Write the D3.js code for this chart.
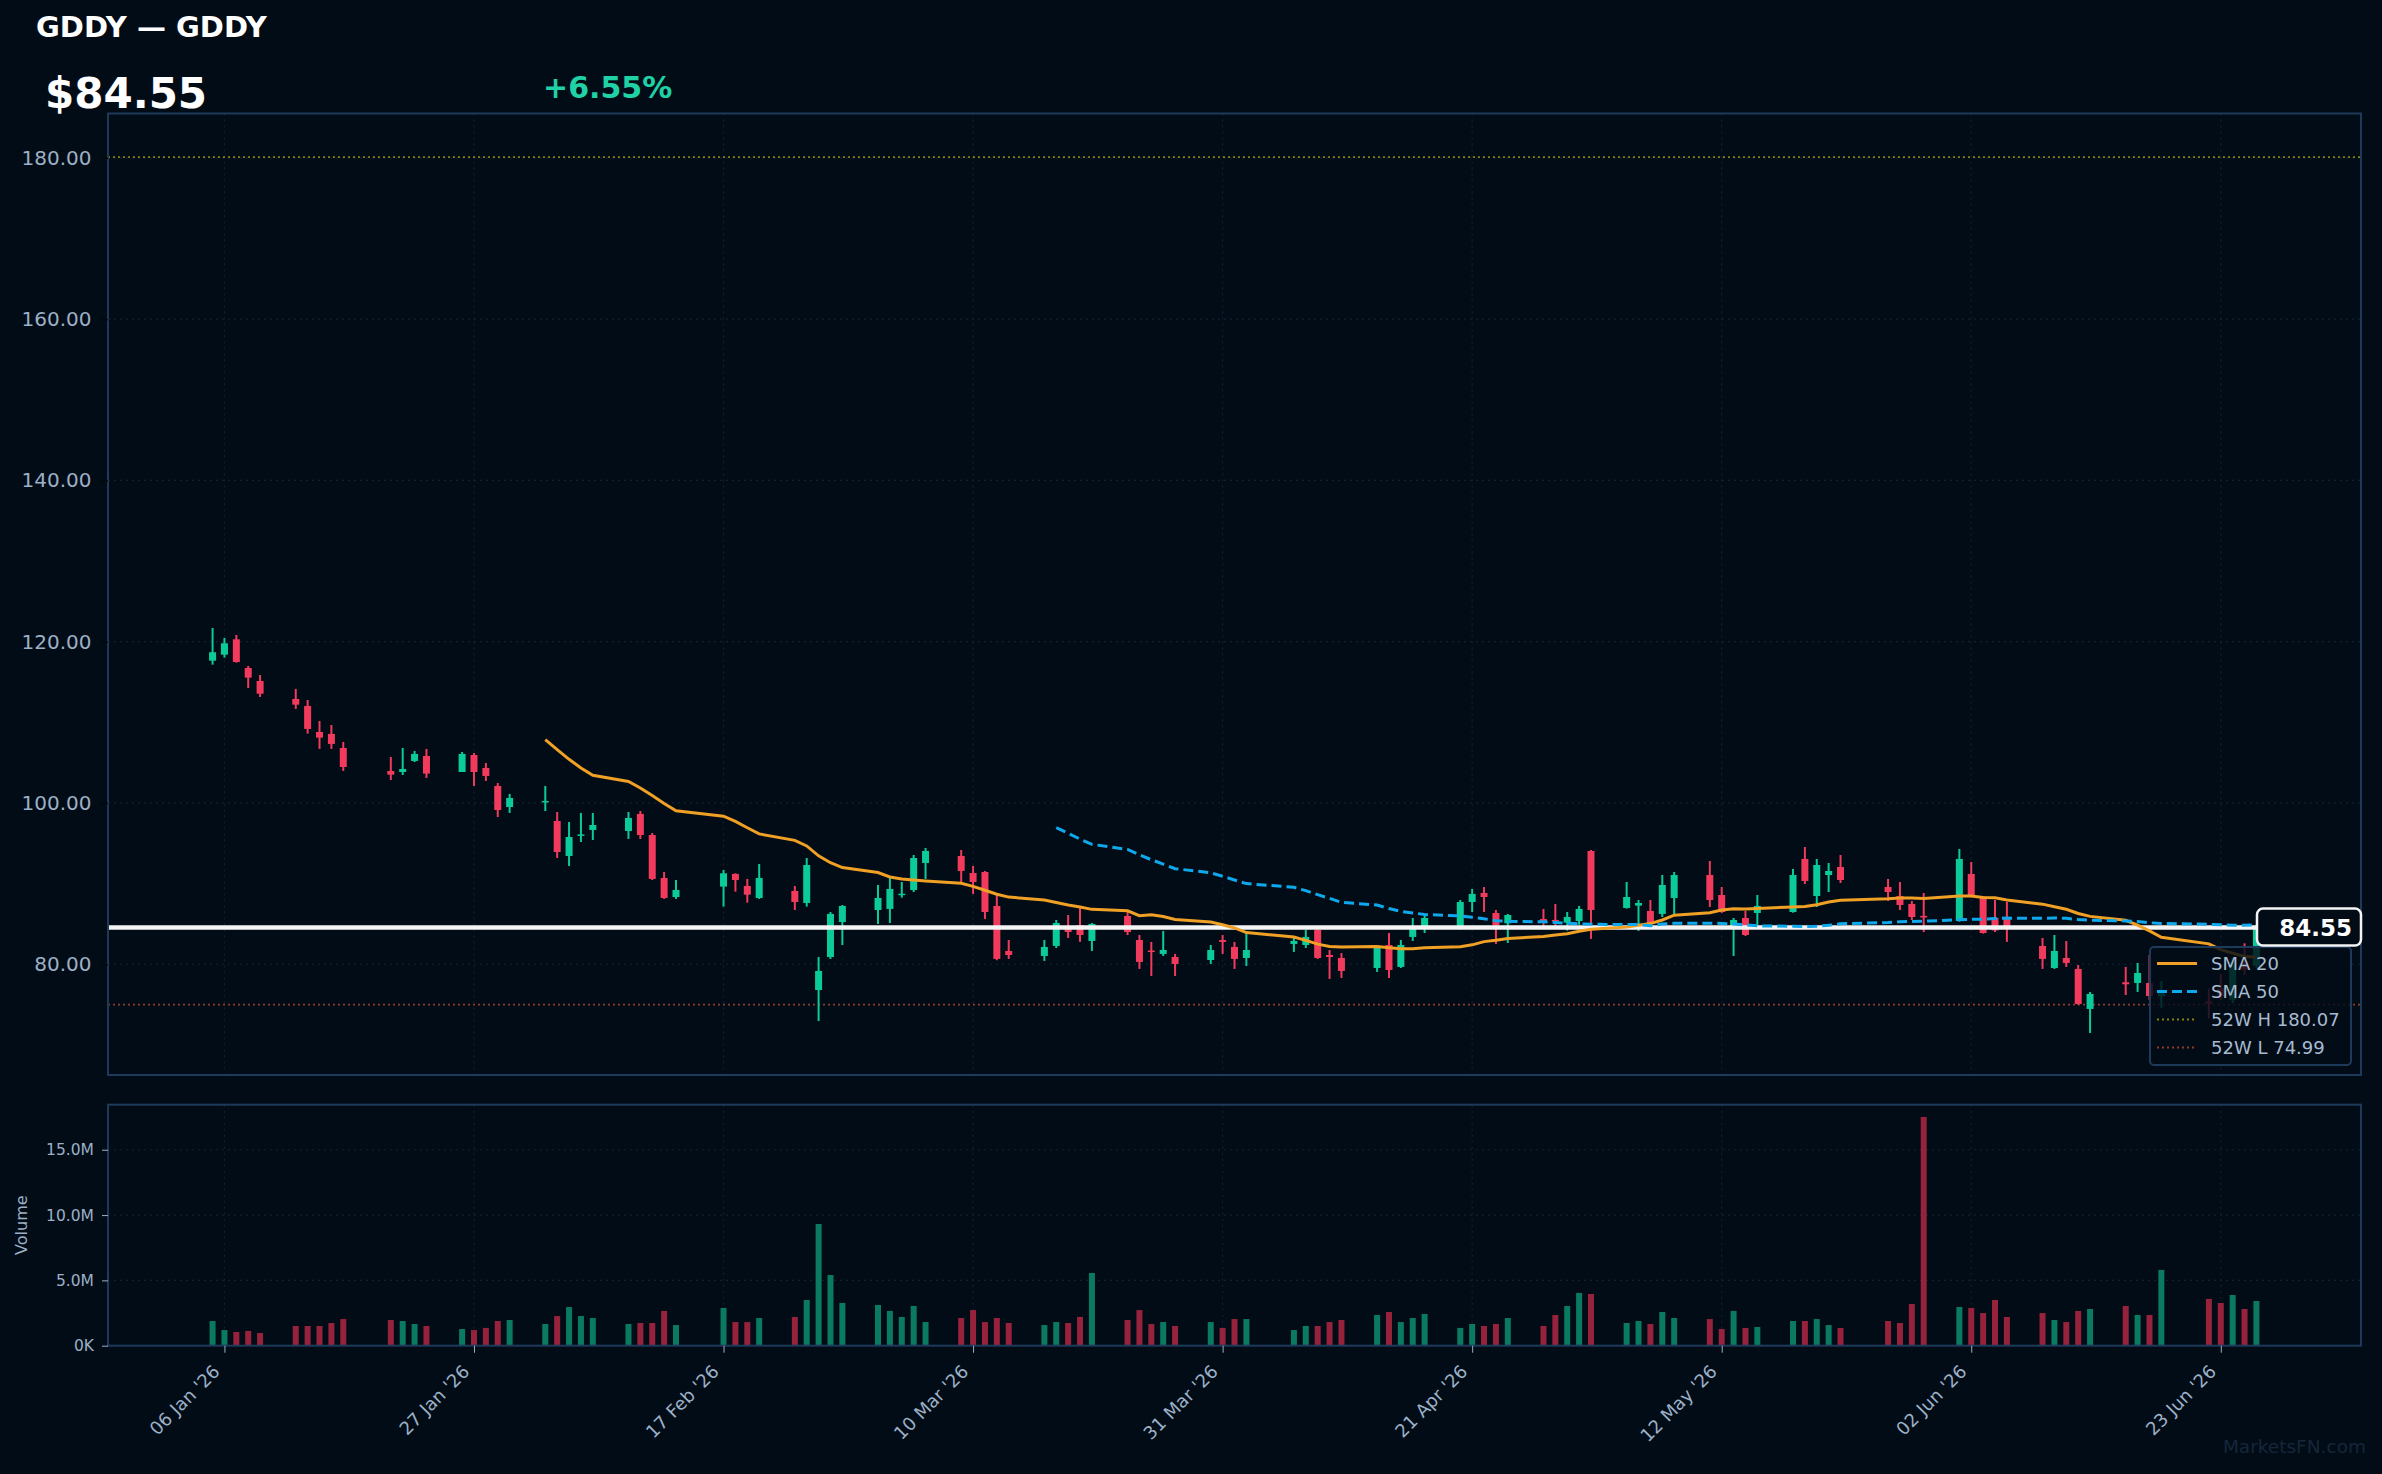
<!DOCTYPE html>
<html>
<head>
<meta charset="utf-8">
<script src="https://cdn.jsdelivr.net/npm/d3@7"></script>
<style>
html, body { margin: 0; padding: 0; background: #020c17; }
svg { display: block; font-family: "DejaVu Sans", sans-serif; }
</style>
</head>
<body>
<script>
// ---- data ----
var ticker = "GDDY";
var lastPrice = 84.55;
var changePct = 6.55;
var high52 = 180.07;
var low52 = 74.99;

var dates = ["01-05","01-06","01-07","01-08","01-09","01-12","01-13","01-14","01-15","01-16",
  "01-20","01-21","01-22","01-23","01-26","01-27","01-28","01-29","01-30",
  "02-02","02-03","02-04","02-05","02-06","02-09","02-10","02-11","02-12","02-13",
  "02-17","02-18","02-19","02-20","02-23","02-24","02-25","02-26","02-27",
  "03-02","03-03","03-04","03-05","03-06","03-09","03-10","03-11","03-12","03-13",
  "03-16","03-17","03-18","03-19","03-20","03-23","03-24","03-25","03-26","03-27","03-30","03-31",
  "04-01","04-02","04-06","04-07","04-08","04-09","04-10","04-13","04-14","04-15","04-16","04-17",
  "04-20","04-21","04-22","04-23","04-24","04-27","04-28","04-29","04-30",
  "05-01","05-04","05-05","05-06","05-07","05-08","05-11","05-12","05-13","05-14","05-15",
  "05-18","05-19","05-20","05-21","05-22","05-26","05-27","05-28","05-29",
  "06-01","06-02","06-03","06-04","06-05","06-08","06-09","06-10","06-11","06-12",
  "06-15","06-16","06-17","06-18","06-22","06-23","06-24","06-25","06-26"];

var opens = [117.64,118.39,120.29,116.74,115.13,112.9,112.03,108.8,108.56,106.82,
  103.97,103.84,105.21,105.83,103.84,105.95,104.34,102.11,99.5,
  100.09,97.77,93.43,96.03,96.65,96.53,98.64,96.03,90.7,88.34,
  89.63,91.2,89.71,88.22,89.09,87.6,76.81,80.9,85.24,
  86.73,86.86,88.65,89.21,92.56,93.43,91.32,91.44,87.23,81.65,
  81.03,82.27,84.75,84.87,82.89,85.99,83.01,81.7,81.28,80.9,80.53,83.01,
  82.15,80.78,82.52,82.39,84.25,81.15,80.78,79.54,82.39,79.67,83.39,84.5,
  84.58,87.72,88.84,86.36,85.08,85.62,85.5,85.16,85.37,
  94.05,86.98,87.27,86.61,86.24,88.22,91.07,88.59,84.7,85.74,86.36,
  86.48,93.06,88.47,91.07,92.06,89.58,88.47,87.48,86.0,
  85.37,91.2,88.39,85.74,85.86,82.27,79.54,80.78,79.42,74.46,
  77.77,77.68,77.68,76.0,75.4,77.0,75.6,80.3,79.8];

var highs = [121.7,120.46,120.83,116.99,115.87,114.14,112.77,110.17,109.67,107.56,
  105.7,106.82,106.45,106.7,106.32,106.2,104.96,102.48,101.12,
  102.11,98.88,97.64,98.76,98.76,98.88,99.0,96.28,91.44,90.45,
  91.69,91.28,90.58,92.44,89.71,93.18,80.9,86.48,87.35,
  89.83,90.7,90.2,93.55,94.42,94.17,92.19,91.57,88.59,83.01,
  83.01,85.49,86.11,86.98,85.12,86.48,83.63,82.77,84.13,81.28,82.39,83.63,
  82.77,84.0,83.39,84.25,84.62,81.77,81.4,82.27,83.88,83.01,85.74,86.11,
  87.97,89.34,89.58,86.73,86.24,86.86,87.48,86.48,87.23,
  94.17,90.2,87.97,87.97,91.07,91.44,92.81,89.58,85.74,86.61,88.59,
  91.82,94.54,93.06,92.56,93.55,90.58,90.2,87.85,88.84,
  94.3,92.68,88.45,87.97,87.72,83.26,83.63,82.89,79.91,76.57,
  79.67,80.16,81.15,77.9,77.0,78.8,80.8,82.6,84.9];

var lows = [117.15,118.02,117.4,114.26,113.14,111.66,108.6,106.7,106.7,103.97,
  102.85,103.47,105.08,103.1,103.84,102.11,102.73,98.26,98.76,
  99.0,93.18,92.19,95.16,95.41,95.54,95.54,90.45,88.1,88.1,
  87.15,89.0,87.64,88.1,86.73,87.15,72.97,80.66,82.39,
  85.0,85.12,88.26,88.96,90.58,90.2,88.72,85.62,80.5,80.66,
  80.41,82.02,83.26,82.77,81.65,83.63,79.42,78.55,81.03,78.55,80.04,81.28,
  79.42,79.79,81.53,82.02,80.66,78.18,78.3,79.05,78.3,79.54,82.89,83.88,
  84.3,86.48,86.48,82.52,82.64,84.5,84.4,84.17,84.9,
  83.14,86.9,84.13,84.75,85.86,86.11,87.1,86.36,81.03,83.5,84.87,
  86.4,89.96,87.1,88.96,90.08,87.85,86.73,85.49,84.0,
  85.3,88.3,83.8,84.0,82.77,79.42,79.42,79.67,75.0,71.48,
  76.19,76.57,75.57,74.6,73.3,75.6,75.2,78.7,79.5];

var closes = [118.69,119.8,117.48,115.54,113.55,112.19,109.18,108.1,107.32,104.46,
  103.51,104.22,106.08,103.64,106.08,103.84,103.35,99.13,100.62,
  100.25,93.92,95.78,96.1,97.27,98.14,96.03,90.58,88.22,89.21,
  91.28,90.45,88.63,90.7,87.72,92.31,79.17,86.24,87.23,
  88.22,89.34,88.75,93.18,94.05,91.57,90.2,86.48,80.66,81.15,
  82.15,85.12,84.0,83.63,85.0,84.0,80.29,81.55,81.77,80.04,81.77,82.77,
  80.66,81.77,82.89,83.39,80.78,80.9,79.17,82.15,79.29,82.39,84.38,85.74,
  87.72,88.72,88.34,84.8,86.11,85.29,85.4,85.86,86.86,
  86.73,88.34,87.6,85.12,89.83,91.07,87.97,86.48,85.49,83.63,87.23,
  91.07,90.33,92.31,91.57,90.45,88.96,87.35,85.86,85.8,
  93.06,88.39,83.88,84.2,84.4,80.66,81.65,80.16,75.08,76.32,
  77.52,78.92,76.07,76.8,75.1,76.0,80.3,79.35,84.55];

// volume in millions of shares
var volumes = [1.89,1.2,1.05,1.13,0.97,1.51,1.51,1.51,1.74,2.04,
  1.97,1.89,1.66,1.51,1.28,1.2,1.36,1.89,1.97,
  1.66,2.27,2.96,2.27,2.12,1.66,1.74,1.74,2.66,1.58,
  2.89,1.81,1.81,2.12,2.2,3.5,9.32,5.41,3.27,
  3.12,2.66,2.2,3.04,1.81,2.12,2.73,1.81,2.12,1.74,
  1.58,1.81,1.74,2.2,5.57,1.97,2.73,1.66,1.81,1.51,1.81,1.36,
  2.04,2.04,1.2,1.51,1.51,1.81,1.97,2.35,2.58,1.81,2.12,2.43,
  1.36,1.66,1.51,1.66,2.12,1.51,2.35,3.04,4.04,
  3.96,1.74,1.89,1.66,2.58,2.12,2.04,1.28,2.66,1.36,1.43,
  1.89,1.89,2.04,1.58,1.36,1.89,1.74,3.19,17.51,
  2.96,2.89,2.5,3.5,2.2,2.5,1.97,1.81,2.66,2.81,
  3.04,2.35,2.35,5.8,3.58,3.27,3.88,2.81,3.42];

var priceTicks = [80, 100, 120, 140, 160, 180];
var volumeTicks = [0, 5, 10, 15];
var xTickDates = ["01-06","01-27","02-17","03-10","03-31","04-21","05-12","06-02","06-23"];

// ---- layout ----
var W = 2382, H = 1474;
var left = 108, right = 2361;
var priceTop = 113.5, priceBottom = 1075;
var volTop = 1104.7, volBottom = 1345.7;

var upColor = "#0ccb9b", downColor = "#f23b5c";
var upVol = "#0a7a60", downVol = "#97223c";
var axisColor = "#1e3a5a", labelColor = "#9cb0c6", gridColor = "#112133";

var parse = d3.utcParse("%Y-%m-%d");
var bars = dates.map(function(d, i) {
  return {date: parse("2026-" + d), o: opens[i], h: highs[i], l: lows[i], c: closes[i], v: volumes[i]};
});

function sma(n) {
  var out = [];
  for (var i = n - 1; i < closes.length; i++) {
    out.push({date: bars[i].date, v: d3.mean(closes.slice(i - n + 1, i + 1))});
  }
  return out;
}
var sma20 = sma(20), sma50 = sma(50);

var dayMs = 864e5;
var first = bars[0].date, last = bars[bars.length - 1].date;
var x = d3.scaleUtc()
  .domain([new Date(+first - 8.8 * dayMs), new Date(+last + 8.8 * dayMs)])
  .range([left, right]);
var y = d3.scaleLinear().domain([66.27, 185.49]).range([priceBottom, priceTop]);
var yv = d3.scaleLinear().domain([0, 18.45]).range([volBottom, volTop]);

var svg = d3.select("body").append("svg").attr("width", W).attr("height", H);
svg.append("rect").attr("width", W).attr("height", H).attr("fill", "#020c17");

// ---- grids ----
var tickDates = xTickDates.map(function(d) { return parse("2026-" + d); });
var grid = svg.append("g").attr("stroke", gridColor).attr("stroke-width", 1.2).attr("stroke-dasharray", "2,4");
priceTicks.forEach(function(t) {
  grid.append("line").attr("x1", left).attr("x2", right).attr("y1", y(t)).attr("y2", y(t));
});
volumeTicks.slice(1).forEach(function(t) {
  grid.append("line").attr("x1", left).attr("x2", right).attr("y1", yv(t)).attr("y2", yv(t));
});
tickDates.forEach(function(d) {
  grid.append("line").attr("x1", x(d)).attr("x2", x(d)).attr("y1", priceTop).attr("y2", priceBottom);
  grid.append("line").attr("x1", x(d)).attr("x2", x(d)).attr("y1", volTop).attr("y2", volBottom);
});

// 52 week lines
svg.append("line").attr("x1", left).attr("x2", right).attr("y1", y(high52)).attr("y2", y(high52))
  .attr("stroke", "#85810f").attr("stroke-width", 1.8).attr("stroke-dasharray", "2,3");
svg.append("line").attr("x1", left).attr("x2", right).attr("y1", y(low52)).attr("y2", y(low52))
  .attr("stroke", "#8f3b2b").attr("stroke-width", 1.8).attr("stroke-dasharray", "2,3");

// ---- candles ----
var candles = svg.append("g").selectAll("g").data(bars).enter().append("g");
candles.append("line")
  .attr("x1", function(d) { return x(d.date); })
  .attr("x2", function(d) { return x(d.date); })
  .attr("y1", function(d) { return y(d.h); })
  .attr("y2", function(d) { return y(d.l); })
  .attr("stroke", function(d) { return d.c >= d.o ? upColor : downColor; })
  .attr("stroke-width", 2);
candles.append("rect")
  .attr("x", function(d) { return x(d.date) - 3.5; })
  .attr("width", 7)
  .attr("y", function(d) { return y(Math.max(d.o, d.c)); })
  .attr("height", function(d) { return Math.max(1.5, Math.abs(y(d.o) - y(d.c))); })
  .attr("fill", function(d) { return d.c >= d.o ? upColor : downColor; });

// current price line
svg.append("line").attr("x1", left).attr("x2", right).attr("y1", y(lastPrice)).attr("y2", y(lastPrice))
  .attr("stroke", "#f4f4f4").attr("stroke-width", 4.5);

// moving averages
var line = d3.line().x(function(d) { return x(d.date); }).y(function(d) { return y(d.v); });
svg.append("path").datum(sma20).attr("d", line).attr("fill", "none")
  .attr("stroke", "#f0a125").attr("stroke-width", 3);
svg.append("path").datum(sma50).attr("d", line).attr("fill", "none")
  .attr("stroke", "#0ea9ec").attr("stroke-width", 3).attr("stroke-dasharray", "10,5");

// ---- volume bars ----
svg.append("g").selectAll("rect").data(bars).enter().append("rect")
  .attr("x", function(d) { return x(d.date) - 3; })
  .attr("width", 6)
  .attr("y", function(d) { return yv(d.v); })
  .attr("height", function(d) { return volBottom - yv(d.v); })
  .attr("fill", function(d) { return d.c >= d.o ? upVol : downVol; });

// ---- panel frames ----
svg.append("rect").attr("x", left).attr("y", priceTop).attr("width", right - left).attr("height", priceBottom - priceTop)
  .attr("fill", "none").attr("stroke", axisColor).attr("stroke-width", 2);
svg.append("rect").attr("x", left).attr("y", volTop).attr("width", right - left).attr("height", volBottom - volTop)
  .attr("fill", "none").attr("stroke", axisColor).attr("stroke-width", 2);

// ---- axes ----
var yAxis = d3.axisLeft(y).tickValues(priceTicks).tickFormat(d3.format(".2f")).tickSize(7).tickPadding(9.5);
var ga = svg.append("g").attr("transform", "translate(" + left + ",0)").call(yAxis);
ga.select(".domain").remove();
ga.selectAll("line").attr("stroke", "#03070b").attr("stroke-width", 1.5);
ga.selectAll("text").attr("fill", labelColor).style("font-size", "20px").style("font-family", "DejaVu Sans");

var vAxis = d3.axisLeft(yv).tickValues(volumeTicks)
  .tickFormat(function(v) { return v === 0 ? "0K" : d3.format(".1f")(v) + "M"; })
  .tickSize(6).tickPadding(8);
var gv = svg.append("g").attr("transform", "translate(" + left + ",0)").call(vAxis);
gv.select(".domain").remove();
gv.selectAll("line").attr("stroke", labelColor);
gv.selectAll("text").attr("fill", labelColor).style("font-size", "15.5px").style("font-family", "DejaVu Sans");

var xAxis = d3.axisBottom(x).tickValues(tickDates).tickFormat(d3.utcFormat("%d %b '%y")).tickSize(7);
var gx = svg.append("g").attr("transform", "translate(0," + volBottom + ")").call(xAxis);
gx.select(".domain").remove();
gx.selectAll("line").attr("stroke", labelColor);
gx.selectAll("text").attr("fill", labelColor).style("font-size", "18px").style("font-family", "DejaVu Sans")
  .attr("text-anchor", "end").attr("dy", null)
  .attr("transform", "translate(-4,27) rotate(-45)")
  .attr("y", 0).attr("x", 0);

svg.append("text").attr("transform", "translate(22," + ((volTop + volBottom) / 2) + ") rotate(-90)")
  .attr("text-anchor", "middle").attr("dominant-baseline", "middle")
  .attr("fill", labelColor).style("font-size", "16px").text("Volume");

// ---- legend ----
var lg = svg.append("g").attr("transform", "translate(2150,947)");
lg.append("rect").attr("width", 201).attr("height", 118).attr("rx", 4)
  .attr("fill", "#020c17").attr("fill-opacity", 0.82).attr("stroke", axisColor).attr("stroke-width", 2);
var legendItems = [
  {label: "SMA 20", color: "#f0a125", dash: null, w: 3},
  {label: "SMA 50", color: "#0ea9ec", dash: "10,5", w: 3},
  {label: "52W H " + high52.toFixed(2), color: "#85810f", dash: "2,3", w: 1.8},
  {label: "52W L " + low52.toFixed(2), color: "#8f3b2b", dash: "2,3", w: 1.8}
];
legendItems.forEach(function(it, i) {
  var yy = 16.5 + i * 28;
  lg.append("line").attr("x1", 7).attr("x2", 47).attr("y1", yy).attr("y2", yy)
    .attr("stroke", it.color).attr("stroke-width", it.w).attr("stroke-dasharray", it.dash);
  lg.append("text").attr("x", 61).attr("y", yy).attr("dominant-baseline", "central")
    .attr("fill", "#a7bbd0").style("font-size", "18px").text(it.label);
});

// ---- last price tag ----
var tagY = y(lastPrice);
svg.append("rect").attr("x", 2257).attr("y", tagY - 19).attr("width", 104).attr("height", 37).attr("rx", 6)
  .attr("fill", "#020c17").attr("stroke", "#f4f4f4").attr("stroke-width", 2.5);
svg.append("text").attr("x", 2352).attr("y", tagY).attr("text-anchor", "end").attr("dominant-baseline", "central")
  .attr("fill", "#ffffff").style("font-size", "23px").style("font-weight", "bold").text(lastPrice.toFixed(2));

// ---- header ----
svg.append("text").attr("x", 36).attr("y", 37).attr("fill", "#ffffff")
  .style("font-size", "29px").style("font-weight", "bold").text(ticker + " \u2014 " + ticker);
svg.append("text").attr("x", 45).attr("y", 108).attr("fill", "#ffffff")
  .style("font-size", "42px").style("font-weight", "bold").text("$" + lastPrice.toFixed(2));
svg.append("text").attr("x", 543).attr("y", 98).attr("fill", "#1fd1a5")
  .style("font-size", "30px").style("font-weight", "bold").text("+" + changePct.toFixed(2) + "%");

// watermark
svg.append("text").attr("x", 2366).attr("y", 1453).attr("text-anchor", "end")
  .attr("fill", "#15263a").style("font-size", "18.5px").text("MarketsFN.com");
</script>
</body>
</html>
